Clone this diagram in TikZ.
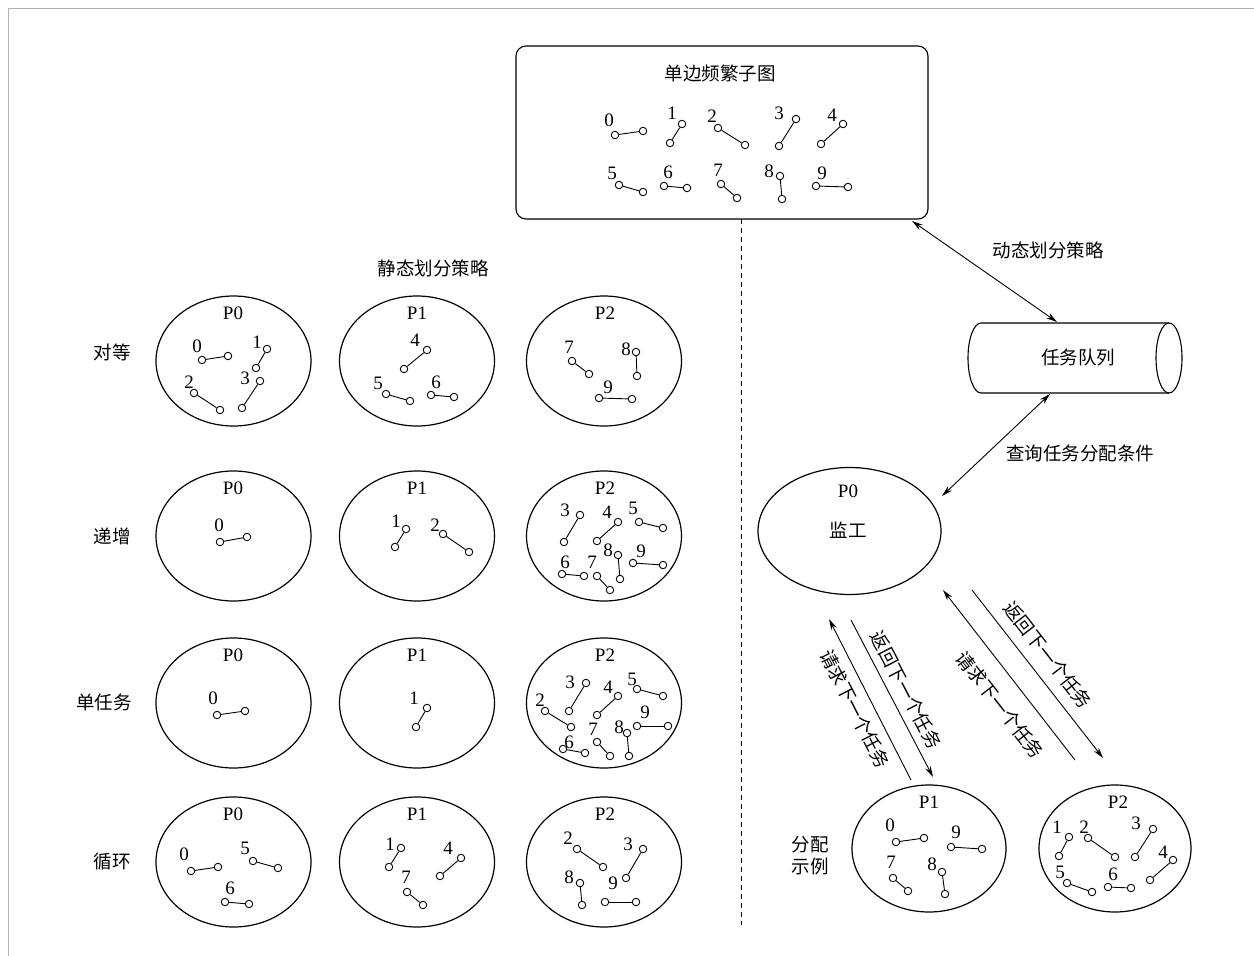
\documentclass[tikz,border=0pt]{standalone}
\usepackage{fontspec}
\setmainfont{Liberation Serif}
\newfontfamily\cjk{Noto Sans CJK SC}
\usetikzlibrary{arrows.meta,shapes.geometric}
\tikzset{
  ell/.style={draw,ellipse,line width=1.2pt,inner sep=0pt},
  vtx/.style={draw,circle,fill=white,inner sep=0pt,minimum size=7.5pt,line width=0.9pt},
  dig/.style={inner sep=0pt,font=\fontsize{19}{19}\selectfont},
  zh/.style={inner sep=0pt,font=\cjk\fontsize{18.5}{22}\selectfont},
  biarr/.style={line width=0.9pt,{Stealth[length=11pt,width=6pt]}-{Stealth[length=11pt,width=6pt]}},
  onearr/.style={line width=0.9pt,-{Stealth[length=11pt,width=6pt]}},
}
\newcommand\sedge[5]{%
  \node[vtx] (#1a) at (#4) {};
  \node[vtx] (#1b) at (#5) {};
  \draw[line width=0.9pt] (#1a) -- (#1b);
  \node[dig] (#1l) at (#3) {#2};}
\begin{document}
\begin{tikzpicture}[x=1pt,y=-1pt]
\useasboundingbox (0,0) rectangle (1254,956);
% frame
\draw[gray!60,line width=1pt] (8,956) -- (8,8) -- (1254,8);

% top box
\node[draw,rounded corners=10pt,line width=1.1pt,minimum width=412pt,minimum height=173pt] (sub) at (722,132.5) {};
\node[zh] (subt) at (720,73) {单边频繁子图};
\sedge{t0}{0}{609,120}{615,135}{643,131}
\sedge{t1}{1}{672,113}{682,124}{670,143}
\sedge{t2}{2}{712,116}{718,128}{745,145}
\sedge{t3}{3}{779,113}{796,119}{779,146}
\sedge{t4}{4}{832,115}{843,124}{821,144}
\sedge{t5}{5}{612,173}{619,185}{643,192}
\sedge{t6}{6}{668,172}{664,186}{687,188}
\sedge{t7}{7}{718,170}{721,184}{737,198}
\sedge{t8}{8}{769,171}{780,176}{782,199}
\sedge{t9}{9}{822,173}{816,186}{848,187}

% dashed divider
\coordinate (dv1) at (741,219);
\coordinate (dv2) at (741,925);
\draw[line width=0.9pt,dash pattern=on 5pt off 4pt] (dv1) -- (dv2);

% static part
\node[zh] (stat) at (433,268) {静态划分策略};
\node[zh] (row1) at (112,352) {对等};
\node[zh] (row2) at (112,536) {递增};
\node[zh] (row3) at (104,702) {单任务};
\node[zh] (row4) at (112,862) {循环};

\foreach \r/\y in {1/361,2/536,3/703,4/862}{
  \node[ell,minimum width=155pt,minimum height=130pt] (e\r p0) at (233.5,\y) {};
  \node[ell,minimum width=155pt,minimum height=130pt] (e\r p1) at (417,\y) {};
  \node[ell,minimum width=155pt,minimum height=130pt] (e\r p2) at (604,\y) {};
  \node[dig] (l\r p0) at (233,\y-48) {P0};
  \node[dig] (l\r p1) at (417,\y-48) {P1};
  \node[dig] (l\r p2) at (605,\y-48) {P2};
}

% row 1
\sedge{a0}{0}{197,346}{202,360}{228,356}
\sedge{a1}{1}{257,342}{267,349}{256,368}
\sedge{a2}{2}{189,382}{194,393}{220,410}
\sedge{a3}{3}{245,378}{260,381}{242,408}
\sedge{a4}{4}{415,340}{427,350}{404,369}
\sedge{a5}{5}{378,383}{386,394}{410,401}
\sedge{a6}{6}{436,382}{431,395}{454,397}
\sedge{a7}{7}{569,347}{572,361}{589,374}
\sedge{a8}{8}{626,349}{636,352}{637,376}
\sedge{a9}{9}{608,387}{599,398}{632,399}
% row 2
\sedge{b0}{0}{219,525}{220,542}{247,537}
\sedge{b1}{1}{396,521}{406,529}{395,547}
\sedge{b2}{2}{435,525}{443,534}{469,552}
\sedge{b3}{3}{565,510}{580,515}{564,542}
\sedge{b4}{4}{607,512}{618,522}{597,541}
\sedge{b5}{5}{633,508}{639,522}{663,528}
\sedge{b6}{6}{565,562}{562,574}{584,576}
\sedge{b7}{7}{592,562}{597,576}{610,590}
\sedge{b8}{8}{608,550}{618,555}{620,579}
\sedge{b9}{9}{641,551}{633,563}{663,565}
% row 3
\sedge{c0}{0}{213,698}{217,715}{245,711}
\sedge{c1}{1}{414,698}{427,708}{416,727}
\sedge{c2}{2}{540,700}{545,711}{571,727}
\sedge{c3}{3}{570,682}{586,683}{569,711}
\sedge{c4}{4}{608,687}{618,696}{597,715}
\sedge{c5}{5}{632,679}{637,689}{663,696}
\sedge{c6}{6}{569,742}{563,749}{585,753}
\sedge{c7}{7}{593,729}{597,742}{610,756}
\sedge{c8}{8}{619,727}{627,733}{629,756}
\sedge{c9}{9}{645,712}{637,726}{668,726}
% row 4
\sedge{d0}{0}{184,854}{191,871}{218,867}
\sedge{d5}{5}{245,848}{253,861}{278,868}
\sedge{d6}{6}{230,888}{225,902}{249,904}
\sedge{d1}{1}{390,844}{401,848}{389,867}
\sedge{d4}{4}{448,848}{461,858}{440,876}
\sedge{d7}{7}{406,877}{407,892}{423,905}
\sedge{d2}{2}{568,838}{577,849}{603,867}
\sedge{d3}{3}{628,844}{643,849}{626,878}
\sedge{d8}{8}{569,877}{580,883}{582,905}
\sedge{d9}{9}{613,883}{605,902}{636,902}

% dynamic part
\node[minimum width=214pt,minimum height=70pt,inner sep=0pt] (queue) at (1075,358) {};
\draw[line width=1.1pt] (1169,323) -- (981,323) arc[start angle=90,end angle=270,x radius=13pt,y radius=35pt] -- (1169,393);
\draw[line width=1.1pt] (1169,358) ellipse[x radius=13pt,y radius=35pt];
\node[zh] (queuet) at (1078,358) {任务队列};

\coordinate (s1) at (912,221);
\coordinate (q1) at (1057,322);
\draw[biarr] (s1) -- (q1);
\node[zh] (dyn) at (1048,250) {动态划分策略};

\node[ell,minimum width=183pt,minimum height=127pt] (mon) at (849.5,531) {};
\node[dig] (monp) at (848,491) {P0};
\node[zh] (mont) at (848,530) {监工};

\coordinate (q2) at (1050,394);
\coordinate (m2) at (942,496);
\draw[biarr] (q2) -- (m2);
\node[zh] (qry) at (1080,453) {查询任务分配条件};

% worker ellipses
\node[ell,minimum width=154pt,minimum height=127pt] (w1) at (929,848.5) {};
\node[ell,minimum width=152pt,minimum height=127pt] (w2) at (1115,848.5) {};
\node[dig] (w1l) at (929,802) {P1};
\node[dig] (w2l) at (1118,802) {P2};
\node[zh,align=center] (ex) at (810,856) {分配\\示例};

\sedge{e0}{0}{890,825}{896,842}{924,838}
\sedge{e9}{9}{956,832}{951,847}{982,849}
\sedge{e7}{7}{891,862}{893,878}{908,891}
\sedge{e8}{8}{932,864}{942,872}{945,894}
\sedge{f1}{1}{1057,827}{1069,837}{1059,856}
\sedge{f2}{2}{1084,827}{1088,838}{1115,857}
\sedge{f3}{3}{1136,823}{1153,829}{1135,857}
\sedge{f4}{4}{1163,852}{1173,860}{1150,880}
\sedge{f5}{5}{1060,872}{1067,883}{1092,892}
\sedge{f6}{6}{1113,874}{1108,887}{1131,888}

% request / return arrows
\coordinate (ra1) at (911,780);
\coordinate (ra2) at (829,619);
\coordinate (rb1) at (851,620);
\coordinate (rb2) at (933,777);
\coordinate (rc1) at (1075,760);
\coordinate (rc2) at (943,590);
\coordinate (rd1) at (972,590);
\coordinate (rd2) at (1103,758);
\draw[onearr] (ra1) -- (ra2);
\draw[onearr] (rb1) -- (rb2);
\draw[onearr] (rc1) -- (rc2);
\draw[onearr] (rd1) -- (rd2);
\node[zh,rotate=-63] (la) at (855,709) {请求下一个任务};
\node[zh,rotate=-62.5] (lb) at (906,690) {返回下一个任务};
\node[zh,rotate=-52] (lc) at (1000,705) {请求下一个任务};
\node[zh,rotate=-52] (ld) at (1048,655) {返回下一个任务};
\end{tikzpicture}
\end{document}
